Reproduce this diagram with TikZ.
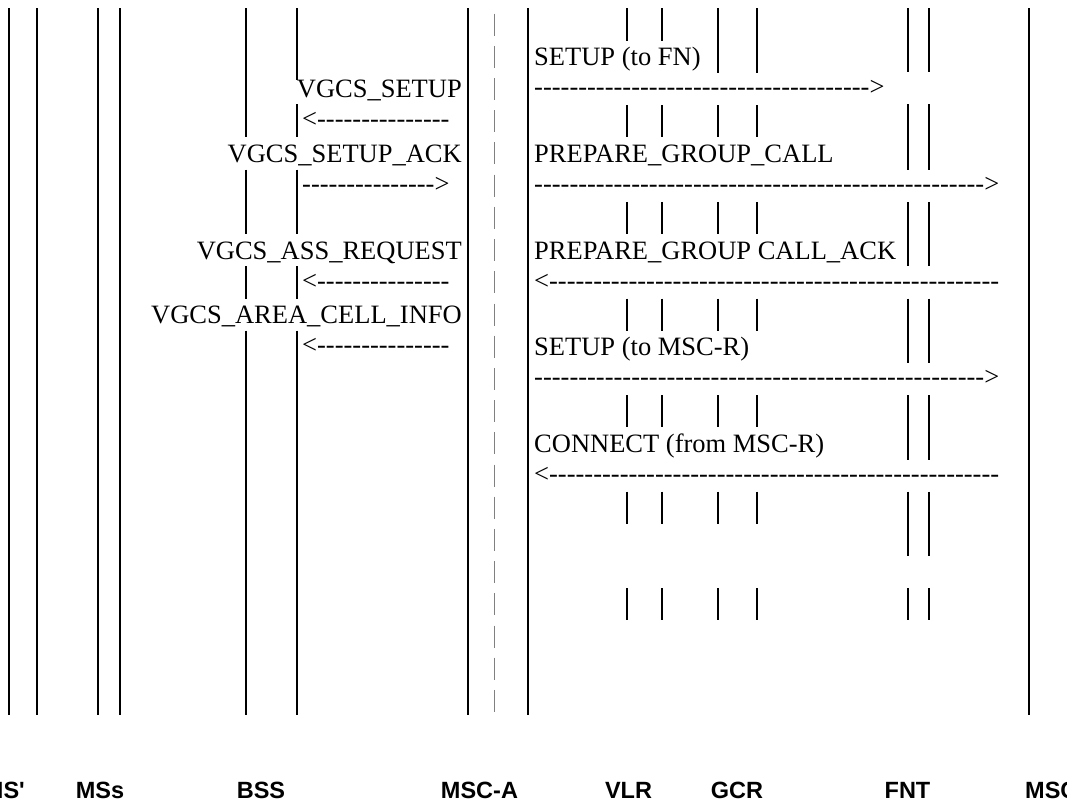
\documentclass[tikz,border=0pt]{standalone}
\usepackage{fontspec}
\newfontfamily\ser{Liberation Serif}
\newfontfamily\lbl{Liberation Sans}
\newcount\hyc
\newcommand\hy[1]{\hyc=0\relax\loop\ifnum\hyc<#1\relax\hbox{-}\advance\hyc by 1\relax\repeat}
\tikzset{
  life/.style={line width=2pt, black},
  msg/.style={font=\ser\fontsize{26.5}{30}\selectfont, inner sep=0pt, text=black},
  lab/.style={font=\lbl\bfseries\fontsize{23.5}{28}\selectfont, inner sep=0pt, anchor=base, text=black},
  midline/.style={gray, line width=1pt, dash pattern=on 22pt off 10.2pt}
}
\begin{document}
\begin{tikzpicture}[x=1pt,y=-1pt]
\path[use as bounding box, clip] (0,0) rectangle (1067,802);
\fill[white] (0,0) rectangle (1067,802);
% full lifelines
\foreach \x in {8.7,37.3,98,119.8,467.6,528.4,1029}
  \draw[life] (\x,8.5) -- (\x,715);
% BSS lifelines
\foreach \a/\b in {8.5/137.5,169.7/234,266.2/298.5,330.7/715}
  \draw[life] (245.8,\a) -- (245.8,\b);
\foreach \a/\b in {8.5/80,104.5/137.5,169.7/234,266.2/298.5,330.7/715}
  \draw[life] (297.4,\a) -- (297.4,\b);
% middle dashed line
\draw[midline] (494.8,13.7) -- (494.8,712);
% VLR / GCR short lines
\foreach \x in {626.7,661.6}
  \draw[life] (\x,8.5) -- (\x,41);
\foreach \x in {718,756.9}
  \draw[life] (\x,8.5) -- (\x,73);
\foreach \x in {626.7,661.6,718,756.9}
  \foreach \a/\b in {105.3/137.5,202/234,298.5/330.7,395/427,491.7/523.9,588/620}
    \draw[life] (\x,\a) -- (\x,\b);
% FNT short lines
\foreach \x in {908,929}
  \foreach \a/\b in {8.5/72.4,104.5/169.7,201.9/266.3,298.5/362.7,395/459.5,491.7/555.9,588/620}
    \draw[life] (\x,\a) -- (\x,\b);
% left messages
\node[msg, anchor=base east] (vsetup) at (462,98) {VGCS\_SETUP};
\node[msg, anchor=base west] (la1) at (302,128) {<\hy{15}};
\node[msg, anchor=base east] (vsetupack) at (462,162.4) {VGCS\_SETUP\_ACK};
\node[msg, anchor=base west] (la2) at (302,192.3) {\hy{15}>};
\node[msg, anchor=base east] (vassreq) at (462,259) {VGCS\_ASS\_REQUEST};
\node[msg, anchor=base west] (la3) at (302,289) {<\hy{15}};
\node[msg, anchor=base east] (vareacell) at (462,323.4) {VGCS\_AREA\_CELL\_INFO};
\node[msg, anchor=base west] (la4) at (302,353.3) {<\hy{15}};
% right messages
\node[msg, anchor=base west] (setupfn) at (534,65.8) {SETUP (to FN)};
\node[msg, anchor=base west] (ra1) at (534,95.7) {\hy{38}>};
\node[msg, anchor=base west] (pgc) at (534,162.4) {PREPARE\_GROUP\_CALL};
\node[msg, anchor=base west] (ra2) at (534,192.3) {\hy{51}>};
\node[msg, anchor=base west] (pgcack) at (534,259) {PREPARE\_GROUP CALL\_ACK};
\node[msg, anchor=base west] (ra3) at (534,289) {<\hy{51}};
\node[msg, anchor=base west] (setupr) at (534,355.6) {SETUP (to MSC-R)};
\node[msg, anchor=base west] (ra4) at (534,385.5) {\hy{51}>};
\node[msg, anchor=base west] (connect) at (534,452.2) {CONNECT (from MSC-R)};
\node[msg, anchor=base west] (ra5) at (534,482.1) {<\hy{51}};
% bottom labels
\node[lab, anchor=base east] (lms1) at (25,798) {MS'};
\node[lab] (lmss) at (100,798) {MSs};
\node[lab] (lbss) at (261,798) {BSS};
\node[lab] (lmsca) at (479.5,798) {MSC-A};
\node[lab] (lvlr) at (628.5,798) {VLR};
\node[lab] (lgcr) at (737,798) {GCR};
\node[lab] (lfnt) at (907.5,798) {FNT};
\node[lab, anchor=base west] (lmscr) at (1025,798) {MSC-R};
\end{tikzpicture}
\end{document}
